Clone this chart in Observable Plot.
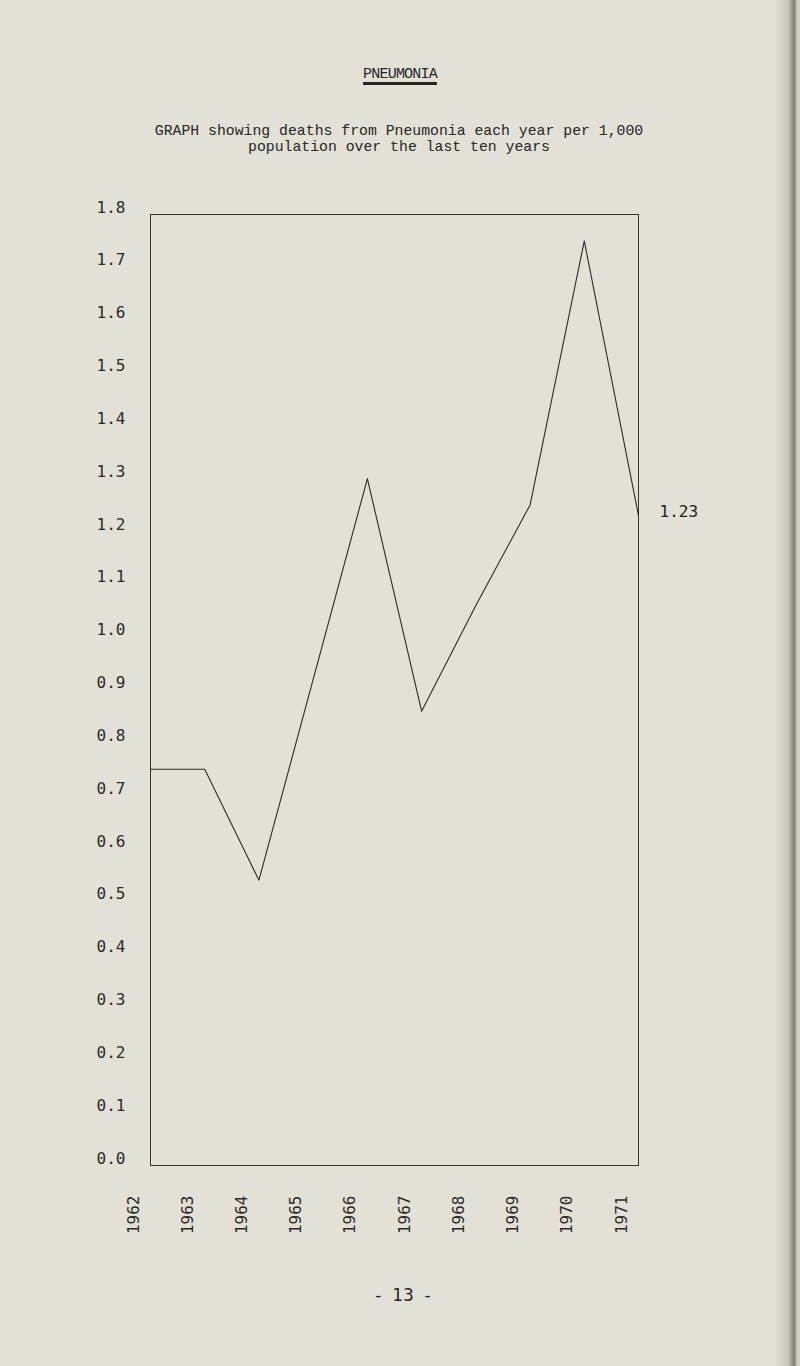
<!DOCTYPE html>
<html>
<head>
<meta charset="utf-8">
<script src="https://cdn.jsdelivr.net/npm/d3@7"></script>
<script src="https://cdn.jsdelivr.net/npm/@observablehq/plot@0.6"></script>
<style>
  html, body { margin: 0; padding: 0; background: #e3e0d6; }
  #page { position: relative; width: 800px; height: 1366px; overflow: hidden; background: #e3e0d6; }
  #edge { position: absolute; top: 0; right: 0; width: 26px; height: 1366px;
    background: linear-gradient(to right, rgba(0,0,0,0) 0%, rgba(120,118,110,0.25) 55%, #7b7972 78%, #c9c6bc 88%, #d8d5cb 100%); }
  #title { position: absolute; left: 0; width: 800px; top: 66px; text-align: center;
    font-family: "Liberation Mono", "DejaVu Sans Mono", monospace; font-size: 15px; color: #262626;
    letter-spacing: -0.8px; }
  #title span { text-decoration: underline; text-decoration-thickness: 2.5px; text-underline-offset: 4px; }
  #subtitle { position: absolute; left: 0; width: 798px; top: 123px; text-align: center;
    font-family: "Liberation Mono", "DejaVu Sans Mono", monospace; font-size: 14.8px; line-height: 16px; color: #262626; }
  #chart { position: absolute; left: 0; top: 190px; }
  #pageno { position: absolute; left: 0; width: 806px; top: 1285px; text-align: center; white-space: pre;
    font-family: "DejaVu Sans", sans-serif; font-size: 17px; color: #262626; }
</style>
</head>
<body>
<div id="page">
  <div id="title"><span>PNEUMONIA</span></div>
  <div id="subtitle">GRAPH showing deaths from Pneumonia each year per 1,000<br>population over the last ten years</div>
  <div id="chart"></div>
  <div id="pageno">-  13  -</div>
  <div id="edge"></div>
</div>
<script>
// Deaths from pneumonia per 1,000 population
const years = [1962, 1963, 1964, 1965, 1966, 1967, 1968, 1969, 1970, 1971];
const deathRates = [0.75, 0.75, 0.54, 0.92, 1.30, 0.86, 1.06, 1.25, 1.75, 1.23];
const yTicks = [0.0, 0.1, 0.2, 0.3, 0.4, 0.5, 0.6, 0.7, 0.8, 0.9, 1.0, 1.1, 1.2, 1.3, 1.4, 1.5, 1.6, 1.7, 1.8];

const data = years.map((year, i) => ({year, value: deathRates[i]}));
const last = data[data.length - 1];

const chart = Plot.plot({
  width: 800,
  height: 1100,
  marginLeft: 150,
  marginRight: 162,
  marginTop: 24,
  marginBottom: 125,
  style: {background: "transparent", fontFamily: "'DejaVu Sans Mono', monospace", fontSize: "16px", color: "#2a2a2a"},
  x: {domain: [1962, 1971], axis: null},
  y: {domain: [0, 1.8], axis: null},
  marks: [
    Plot.frame({stroke: "#333", strokeWidth: 1}),
    Plot.axisY({ticks: yTicks, tickSize: 0, tickPadding: 25, dy: -7, label: null,
      tickFormat: d => d.toFixed(1), fontSize: 16, fill: "#2a2a2a"}),
    Plot.text(years, {x: d => d, frameAnchor: "bottom", text: d => String(d),
      rotate: -90, textAnchor: "end", dy: 30, dx: -12, fontSize: 16, fill: "#2a2a2a"}),
    Plot.line(data, {x: "year", y: "value", stroke: "#2b2b2b", strokeWidth: 1.1}),
    Plot.text([last], {x: "year", y: "value", text: d => d.value.toFixed(2),
      textAnchor: "start", dx: 21, dy: -4, fontSize: 16, fill: "#1e1e1e"})
  ]
});
document.getElementById("chart").appendChild(chart);
</script>
</body>
</html>
